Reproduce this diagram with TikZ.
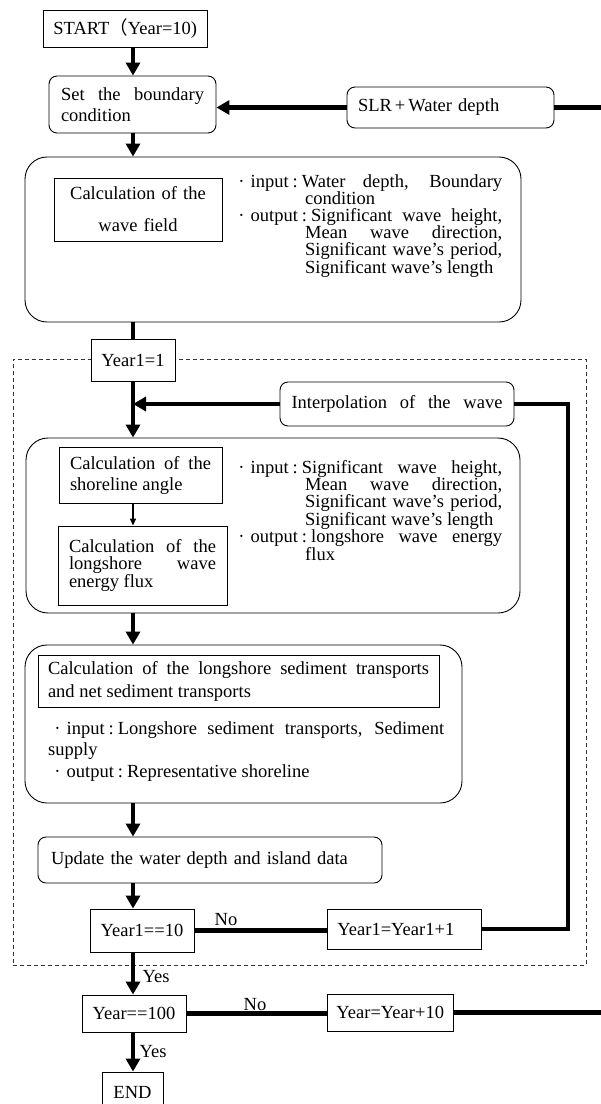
\documentclass[tikz,border=0pt]{standalone}
\usepackage{fontspec}
\setmainfont{Liberation Serif}
\newfontfamily\cjk{Noto Sans CJK JP}
\usetikzlibrary{arrows.meta}
\setlength{\parindent}{0pt}
\newcommand{\jpc}[1]{{\cjk #1}}
\newcommand{\dotmark}{\makebox[1em]{·}}
\newcommand{\ioitem}{\par\hangindent=73pt\hangafter=1\noindent\dotmark}
\newcommand{\iosep}{\hspace{4pt}:\hspace{4pt}}
\tikzset{
  txt/.style={font=\fontsize{18.5}{#1}\selectfont},
  txt/.default=21,
  box/.style={draw, line width=0.9pt, fill=white, inner ysep=0pt},
  rbox/.style={box, rounded corners=8pt},
  bigbox/.style={draw, line width=0.9pt, rounded corners=22pt, inner sep=0pt},
  loopframe/.style={draw=black!80, line width=0.9pt, dash pattern=on 4pt off 3pt, inner sep=0pt},
  flow/.style={line width=4.5pt, -{Triangle[width=14pt,length=13pt]}},
  flowline/.style={line width=4.5pt},
  thinflow/.style={line width=1.3pt, -{Triangle[width=6pt,length=7pt]}},
  lbl/.style={txt, inner sep=0pt},
}

\begin{document}
\begin{tikzpicture}[x=1pt, y=-1pt]
  \path[use as bounding box] (0,0) rectangle (601,1104);
  \coordinate (col) at (133,0);
  \coordinate (loopx) at (568,0);
  \coordinate (edge) at (606,0);

  \node[loopframe, minimum width=573pt, minimum height=606pt] (loop) at (299.5,662) {};

  \node[box, txt, anchor=west, inner xsep=10pt, minimum height=37pt] (start) at (43,28.5) {START\jpc{（}Year=10)};
  \node[rbox, txt=21, text width=143pt, inner xsep=12pt, minimum height=57pt, align=justify] (setbc) at (132.5,104.5) {Set the boundary\linebreak condition};
  \node[rbox, txt, text width=185pt, inner xsep=11pt, minimum height=41pt, align=left] (slr) at (450.5,107.5) {SLR\hspace{3pt}+\hspace{3pt}Water depth};

  \node[bigbox, minimum width=496pt, minimum height=165pt] (box1) at (273,239.5) {};
    \node[box, txt=16.5, text width=160pt, inner xsep=4pt, minimum height=63pt, align=center] (wave) at (138,209.5) {Calculation of the\\[15.5pt]wave field};
    \node[txt=17, text width=270pt, inner sep=0pt, anchor=north west, align=justify] (io1) at (232,170) {\ioitem input\iosep Water depth, Boundary\linebreak condition\ioitem output\iosep Significant wave height,\linebreak Mean wave direction,\linebreak Significant wave’s period,\linebreak Significant wave’s length\par};

  \node[box, txt, minimum width=84pt, minimum height=42pt] (yr1init) at (133,360) {Year1=1};
  \node[rbox, txt, inner xsep=11.5pt, minimum height=44pt] (interp) at (397,404) {\makebox[211pt][s]{Interpolation of the wave}};

  \node[bigbox, minimum width=494pt, minimum height=175pt] (box2) at (273,525.5) {};
    \node[box, txt=21, text width=141pt, inner xsep=11pt, minimum height=56pt, align=justify] (shore) at (140.5,475) {Calculation of the\linebreak shoreline angle};
    \node[box, txt=17, text width=147pt, inner xsep=11pt, minimum height=79pt, align=justify] (longs) at (142.5,565.5) {Calculation of the\linebreak longshore wave\linebreak energy flux};
    \node[txt=17, text width=270pt, inner sep=0pt, anchor=north west, align=justify] (io2) at (232,456) {\ioitem input\iosep Significant wave height,\linebreak Mean wave direction,\linebreak Significant wave’s period,\linebreak Significant wave’s length\ioitem output\iosep longshore wave energy\linebreak flux\par};

  \node[bigbox, minimum width=437pt, minimum height=158pt] (box3) at (243.5,724) {};
    \node[box, txt=23, text width=381pt, inner xsep=10pt, minimum height=52pt, align=justify] (sedtitle) at (238.5,681) {Calculation of the longshore sediment transports\linebreak and net sediment transports};
    \node[txt=21.5, text width=396pt, inner sep=0pt, anchor=north west, align=justify] (sedio) at (48,721) {\dotmark input\iosep Longshore sediment transports, Sediment\linebreak supply\par\dotmark output\iosep Representative shoreline\par};

  \node[rbox, txt, text width=318pt, inner xsep=13pt, minimum height=46pt, align=left] (update) at (210,860) {Update the water depth and island data};
  \node[box, txt, minimum width=104pt, minimum height=43pt] (yr1chk) at (142,930.5) {Year1==10};
  \node[box, txt, anchor=west, text width=134pt, inner xsep=10pt, minimum height=40pt, align=left] (yr1inc) at (327,929) {Year1=Year1+1};
  \node[box, txt, minimum width=104pt, minimum height=37pt] (yrchk) at (134,1013.5) {Year==100};
  \node[box, txt, anchor=west, inner xsep=9pt, minimum height=37pt] (yrinc) at (327,1012.5) {Year=Year+10};
  \node[box, txt, minimum width=61pt, minimum height=40pt] (end) at (132.5,1092) {END};

  \node[lbl] (no1) at (226,920) {No};
  \node[lbl] (no2) at (255,1005) {No};
  \node[lbl] (yes1) at (156,977) {Yes};
  \node[lbl] (yes2) at (153,1052) {Yes};

  \draw[flow] (start.south -| col) -- (setbc.north -| col);
  \draw[flow] (slr.west) -- (slr.west -| setbc.east);
  \draw[flowline] (slr.east) -- (slr.east -| edge);
  \draw[flow] (setbc.south -| col) -- (box1.north -| col);
  \draw[flowline] (box1.south -| col) -- (yr1init.north -| col);
  \draw[flow] (yr1init.south -| col) -- (box2.north -| col);
  \draw[flow] (interp.west) -- (interp.west -| col);
  \draw[thinflow] (shore.south -| col) -- (longs.north -| col);
  \draw[flow] (box2.south -| col) -- (box3.north -| col);
  \draw[flow] (box3.south -| col) -- (update.north -| col);
  \draw[flow] (update.south -| col) -- (yr1chk.north -| col);
  \draw[flowline] (yr1chk.east) -- (yr1chk.east -| yr1inc.west);
  \draw[flowline] (yr1inc.east) -| (loopx |- interp.east) -- (interp.east);
  \draw[flow] (yr1chk.south -| col) -- (yrchk.north -| col);
  \draw[flowline] (yrchk.east) -- (yrchk.east -| yrinc.west);
  \draw[flowline] (yrinc.east) -- (yrinc.east -| edge);
  \draw[flow] (yrchk.south -| col) -- (end.north -| col);
\end{tikzpicture}
\end{document}
